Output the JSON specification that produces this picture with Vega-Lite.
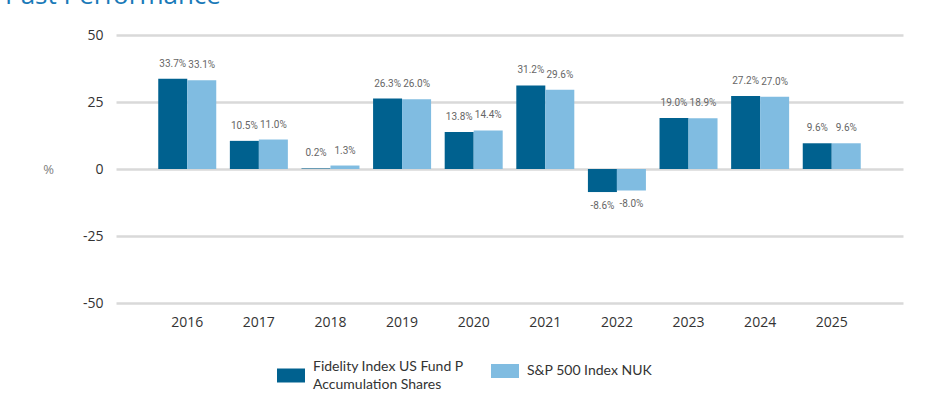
{
  "$schema": "https://vega.github.io/schema/vega-lite/v6.json",
  "autosize": {"type": "none"},
  "width": 787,
  "height": 268,
  "padding": {"left": 116, "top": 35, "right": 22, "bottom": 104},
  "background": "white",
  "title": {
    "text": "Past Performance",
    "anchor": "start",
    "frame": "group",
    "orient": "top",
    "baseline": "alphabetic",
    "offset": 5,
    "dx": -111,
    "dy": 7,
    "font": "Open Sans",
    "fontSize": 26,
    "fontWeight": "normal",
    "color": "#1a7ab8"
  },
  "data": {
    "values": [
      {"year": "2016", "series": "Fidelity Index US Fund P Accumulation Shares", "value": 33.7},
      {"year": "2016", "series": "S&P 500 Index NUK", "value": 33.1},
      {"year": "2017", "series": "Fidelity Index US Fund P Accumulation Shares", "value": 10.5},
      {"year": "2017", "series": "S&P 500 Index NUK", "value": 11.0},
      {"year": "2018", "series": "Fidelity Index US Fund P Accumulation Shares", "value": 0.2},
      {"year": "2018", "series": "S&P 500 Index NUK", "value": 1.3},
      {"year": "2019", "series": "Fidelity Index US Fund P Accumulation Shares", "value": 26.3},
      {"year": "2019", "series": "S&P 500 Index NUK", "value": 26.0},
      {"year": "2020", "series": "Fidelity Index US Fund P Accumulation Shares", "value": 13.8},
      {"year": "2020", "series": "S&P 500 Index NUK", "value": 14.4},
      {"year": "2021", "series": "Fidelity Index US Fund P Accumulation Shares", "value": 31.2},
      {"year": "2021", "series": "S&P 500 Index NUK", "value": 29.6},
      {"year": "2022", "series": "Fidelity Index US Fund P Accumulation Shares", "value": -8.6},
      {"year": "2022", "series": "S&P 500 Index NUK", "value": -8.0},
      {"year": "2023", "series": "Fidelity Index US Fund P Accumulation Shares", "value": 19.0},
      {"year": "2023", "series": "S&P 500 Index NUK", "value": 18.9},
      {"year": "2024", "series": "Fidelity Index US Fund P Accumulation Shares", "value": 27.2},
      {"year": "2024", "series": "S&P 500 Index NUK", "value": 27.0},
      {"year": "2025", "series": "Fidelity Index US Fund P Accumulation Shares", "value": 9.6},
      {"year": "2025", "series": "S&P 500 Index NUK", "value": 9.6}
    ]
  },
  "transform": [
    {"calculate": "replace(format(datum.value, '.1f'), '\u2212', '-') + '%'", "as": "label"}
  ],
  "encoding": {
    "x": {
      "field": "year",
      "type": "nominal",
      "scale": {"paddingInner": 0.19, "paddingOuter": 0.59},
      "axis": {
        "title": null,
        "labelAngle": 0,
        "labelFont": "Open Sans",
        "labelFontSize": 14,
        "labelColor": "#333333",
        "labelPadding": 12,
        "ticks": false,
        "domain": false,
        "grid": false
      }
    },
    "xOffset": {
      "field": "series",
      "type": "nominal",
      "scale": {"paddingInner": 0, "paddingOuter": 0}
    },
    "y": {
      "field": "value",
      "type": "quantitative",
      "scale": {"domain": [-50, 50], "nice": false, "zero": false},
      "axis": {
        "values": [-50, -25, 0, 25, 50],
        "labelExpr": "'' + datum.value",
        "title": "%",
        "titleAngle": 0,
        "titleX": -68,
        "titleY": 134,
        "titleAlign": "center",
        "titleBaseline": "middle",
        "titleFont": "Open Sans",
        "titleFontSize": 13,
        "titleFontWeight": "normal",
        "titleColor": "#808080",
        "labelFont": "Open Sans",
        "labelFontSize": 14,
        "labelColor": "#333333",
        "labelPadding": 13,
        "ticks": false,
        "domain": false,
        "grid": true,
        "gridColor": "#d9d9d9",
        "gridWidth": 2.5
      }
    }
  },
  "layer": [
    {
      "mark": {"type": "bar"},
      "encoding": {
        "color": {
          "field": "series",
          "type": "nominal",
          "scale": {
            "domain": ["Fidelity Index US Fund P Accumulation Shares", "S&P 500 Index NUK"],
            "range": ["#00618f", "#80bce1"]
          },
          "legend": {
            "title": null,
            "orient": "none",
            "legendX": 161,
            "legendY": 322,
            "direction": "horizontal",
            "symbolType": "M-1,-0.5H1V0.5H-1Z",
            "symbolSize": 784,
            "symbolStrokeWidth": 0,
            "symbolOpacity": 1,
            "labelFont": "Lato",
            "labelFontSize": 14,
            "labelColor": "#333333",
            "labelOffset": 8,
            "labelLimit": 400,
            "columnPadding": 27,
            "labelExpr": "datum.label == 'Fidelity Index US Fund P Accumulation Shares' ? ['Fidelity Index US Fund P', 'Accumulation Shares'] : [datum.label, '']",
            "encode": {
              "labels": {
                "update": {
                  "lineHeight": {"value": 18},
                  "dy": {"signal": "datum.label == 'S&P 500 Index NUK' ? 0 : -9"}
                }
              }
            }
          }
        }
      }
    },
    {
      "transform": [{"filter": "datum.value >= 0"}],
      "mark": {"type": "text", "baseline": "bottom", "dy": -10, "font": "Roboto", "fontSize": 10, "color": "#666666"},
      "encoding": {"text": {"field": "label"}}
    },
    {
      "transform": [{"filter": "datum.value < 0"}],
      "mark": {"type": "text", "baseline": "top", "dy": 9, "font": "Roboto", "fontSize": 10, "color": "#666666"},
      "encoding": {"text": {"field": "label"}}
    }
  ],
  "config": {"view": {"stroke": null}}
}
